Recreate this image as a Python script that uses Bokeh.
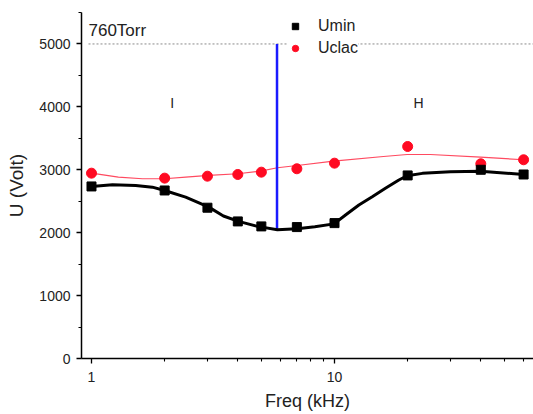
from bokeh.plotting import figure
from bokeh.models import FixedTicker, Label, Legend, LegendItem, Range1d, BasicTickFormatter
from bokeh.embed import file_html
from bokeh.resources import INLINE

# ---- data ----
freq = [1, 2, 3, 4, 5, 7, 10, 20, 40, 60]
umin = [2735, 2671, 2397, 2179, 2100, 2089, 2152, 2910, 3000, 2925]
uclac = [2946, 2867, 2898, 2925, 2962, 3016, 3105, 3370, 3095, 3159]

# fitted curves
umin_fit_x = [1.0, 1.22, 1.52, 1.78, 2.0, 2.44, 3.04, 3.49, 4.03, 4.82, 5.82, 7.02, 8.3, 9.95,
              11.1, 12.6, 14.3, 16.2, 18.4, 19.9, 23.0, 30, 39.9, 60]
umin_fit_y = [2735, 2762, 2751, 2724, 2671, 2565, 2406, 2265, 2179, 2100, 2048, 2063, 2095, 2140,
              2281, 2440, 2571, 2705, 2837, 2905, 2943, 2970, 2978, 2925]
uclac_fit_x = [1.0, 1.29, 1.62, 2.0, 2.44, 3.04, 4.0, 4.96, 5.82, 7.02, 9.9, 15.9, 19.9, 24.8, 39.9, 60]
uclac_fit_y = [2946, 2883, 2857, 2857, 2883, 2910, 2937, 2978, 3032, 3068, 3137, 3211, 3243, 3243, 3200, 3159]

boundary_x = [5.8]
boundary_y0 = [2050]
boundary_y1 = [5000]
ref_level = 5000

x_major = [1, 10]
x_minor = [2, 3, 4, 5, 6, 7, 8, 9, 20, 30, 40, 50, 60]
y_major = [0, 1000, 2000, 3000, 4000, 5000]
y_minor = [500, 1500, 2500, 3500, 4500, 5500]

FONT = "Liberation Sans"
X_MAX = 65.9

p = figure(width=533, height=414, x_axis_type="log",
           x_range=Range1d(0.9096, X_MAX), y_range=Range1d(0, 5500),
           output_backend="svg", toolbar_location=None,
           min_border_left=81, min_border_right=0, min_border_top=12, min_border_bottom=56)
p.outline_line_color = None
p.grid.visible = False
p.background_fill_color = "white"

# reference dotted line at 760 Torr level
p.segment(x0=[0.972], y0=[ref_level], x1=[X_MAX], y1=[ref_level],
          line_color="#8a8a8a", line_width=1, line_dash="2 2")

p.line(uclac_fit_x, uclac_fit_y, line_color="#ff4a60", line_width=1.2)
p.segment(x0=boundary_x, y0=boundary_y0, x1=boundary_x, y1=boundary_y1,
          line_color="#1a1aff", line_width=2.5)
p.line(umin_fit_x, umin_fit_y, line_color="black", line_width=3)
r_uclac = p.scatter(freq, uclac, marker="circle", size=10, fill_color="#ff0a22", line_color="#ff0a22")
r_umin = p.scatter(freq, umin, marker="square", size=9, fill_color="black", line_color="black")

# axes
for ax in (p.xaxis[0], p.yaxis[0]):
    ax.axis_line_width = 1.5
    ax.axis_line_color = "black"
    ax.major_tick_in = 0
    ax.major_tick_out = 5
    ax.minor_tick_in = 0
    ax.minor_tick_out = 3
    ax.major_tick_line_width = 1.3
    ax.minor_tick_line_width = 1.1
    ax.major_label_text_font = FONT
    ax.major_label_text_font_size = "14px"
    ax.major_label_text_color = "#222222"
    ax.axis_label_text_font = FONT
    ax.axis_label_text_font_style = "normal"
    ax.axis_label_text_color = "#222222"

p.xaxis[0].ticker = FixedTicker(ticks=x_major, minor_ticks=x_minor)
p.xaxis[0].formatter = BasicTickFormatter()
p.xaxis[0].axis_label = "Freq (kHz)"
p.xaxis[0].axis_label_text_font_size = "18px"
p.xaxis[0].major_label_standoff = 8
p.xaxis[0].axis_label_standoff = 6

p.yaxis[0].ticker = FixedTicker(ticks=y_major, minor_ticks=y_minor)
p.yaxis[0].formatter = BasicTickFormatter()
p.yaxis[0].axis_label = "U (Volt)"
p.yaxis[0].axis_label_text_font_size = "19px"
p.yaxis[0].major_label_standoff = 6
p.yaxis[0].axis_label_standoff = 9

# texts
p.add_layout(Label(x=0.972, y=5210, text="760Torr", text_font=FONT, text_font_size="17px",
                   text_color="#222222", text_baseline="middle"))
p.add_layout(Label(x=2.15, y=4068, text="I", text_font=FONT, text_font_size="14px",
                   text_color="#222222", text_baseline="middle", text_align="center"))
p.add_layout(Label(x=22.2, y=4068, text="H", text_font=FONT, text_font_size="14px",
                   text_color="#222222", text_baseline="middle", text_align="center"))

legend = Legend(items=[LegendItem(label="Umin", renderers=[r_umin]),
                       LegendItem(label="Uclac", renderers=[r_uclac])],
                location=(206, 301))
legend.label_text_font = FONT
legend.label_text_font_size = "16px"
legend.label_text_color = "#222222"
legend.glyph_width = 16
legend.glyph_height = 16
legend.label_height = 16
legend.spacing = 4
legend.padding = 3
legend.margin = 0
legend.label_standoff = 15
legend.border_line_color = None
legend.background_fill_color = "white"
legend.background_fill_alpha = 1.0
p.add_layout(legend)

open("out.html", "w").write(file_html(p, INLINE))
